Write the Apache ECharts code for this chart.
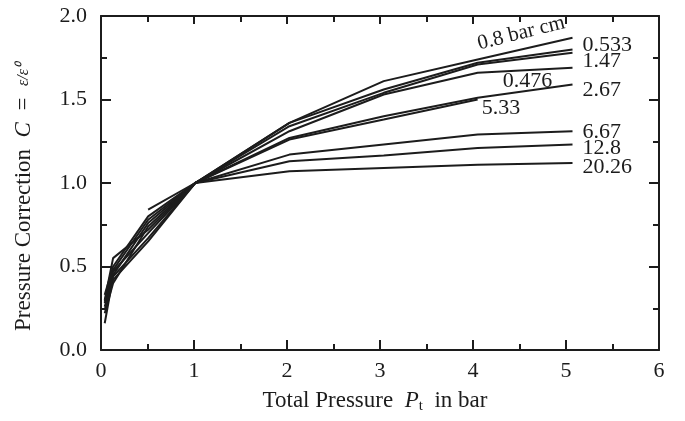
<!DOCTYPE html>
<html>
<head>
<meta charset="utf-8">
<script src="https://cdn.jsdelivr.net/npm/echarts@6/dist/echarts.min.js"></script>
<style>
html, body { margin: 0; padding: 0; background: #fff; }
#main { width: 685px; height: 421px; }
</style>
</head>
<body>
<div id="main"></div>
<script>
// total pressure points (bar) shared by the curves
var pressure = [0.04, 0.13, 0.507, 1.013, 2.026, 3.04, 4.05, 5.07];

// pressure correction C for each pL curve, null where the curve has no point
var c_0_8   = [0.26, 0.42, 0.65, 1.00, 1.36, 1.61, 1.74, 1.87];
var c_0_533 = [0.16, 0.44, 0.67, 1.00, 1.36, 1.56, 1.72, 1.80];
var c_1_47  = [0.28, 0.47, 0.70, 1.00, 1.34, 1.54, 1.71, 1.78];
var c_0_476 = [0.30, 0.55, 0.72, 1.00, 1.31, 1.53, 1.66, 1.69];
var c_2_67  = [0.22, 0.40, 0.74, 1.00, 1.27, 1.40, 1.51, 1.59];
var c_5_33  = [0.24, 0.45, 0.76, 1.00, 1.26, 1.38, 1.50, null];
var c_6_67  = [0.29, 0.48, 0.78, 1.00, 1.17, 1.23, 1.29, 1.31];
var c_12_8  = [0.33, 0.50, 0.80, 1.00, 1.13, 1.165, 1.21, 1.23];
var c_20_26 = [null, null, 0.84, 1.00, 1.07, 1.09, 1.11, 1.12];

var curveNames = ['0.8 bar cm', '0.533', '1.47', '0.476', '2.67', '5.33', '6.67', '12.8', '20.26'];
var curveValues = [c_0_8, c_0_533, c_1_47, c_0_476, c_2_67, c_5_33, c_6_67, c_12_8, c_20_26];

var FONT = 'Liberation Serif';
var INK = '#1c1c1c';

// where each curve's text goes: 'end' = label after last point, 'item' = label at a point
var labelPlace = [
    { type: 'item', index: 6, offset: [3, -15], rotate: 14, fontSize: 21 },
    { type: 'end', offset: [0, -4] },
    { type: 'end', offset: [0, 8] },
    { type: 'item', index: 6, offset: [24, 8], rotate: 0 },
    { type: 'end', offset: [0, 6] },
    { type: 'end', offset: [0, 9], distance: 4 },
    { type: 'end', offset: [0, 1] },
    { type: 'end', offset: [0, 4] },
    { type: 'end', offset: [0, 4] }
];

var textStyle = { fontFamily: FONT, fontSize: 22, color: INK };

var series = curveNames.map(function (name, k) {
    var data = [];
    curveValues[k].forEach(function (v, i) {
        if (v !== null) data.push([pressure[i], v]);
    });
    var place = labelPlace[k];
    var s = {
        name: name,
        type: 'line',
        symbol: 'none',
        data: data,
        lineStyle: { color: INK, width: 2 },
        itemStyle: { color: INK },
        emphasis: { disabled: true },
        z: 3
    };
    if (place.type === 'end') {
        s.endLabel = Object.assign({}, textStyle, {
            show: true,
            formatter: name,
            position: 'right',
            distance: place.distance || 10,
            offset: place.offset
        });
    } else {
        var pt = data[place.index];
        data[place.index] = {
            value: pt,
            symbol: 'circle',
            symbolSize: 2,
            itemStyle: { color: 'rgba(0,0,0,0)' },
            label: Object.assign({}, textStyle, {
                show: true,
                formatter: name,
                position: 'right',
                distance: 0,
                rotate: place.rotate,
                offset: place.offset,
                fontSize: place.fontSize || textStyle.fontSize
            })
        };
    }
    return s;
});

function boxAxis(extra) {
    return Object.assign({
        type: 'value',
        axisLine: { show: true, onZero: false, lineStyle: { color: INK, width: 2 } },
        axisTick: { show: true, inside: true, length: 10, lineStyle: { color: INK, width: 2 } },
        minorTick: { show: true, splitNumber: 2, length: 6, lineStyle: { color: INK, width: 2 } },
        splitLine: { show: false },
        minorSplitLine: { show: false }
    }, extra);
}

var titleRich = {
    it: { fontFamily: FONT, fontSize: 23, fontStyle: 'italic', color: INK },
    sub: { fontFamily: FONT, fontSize: 15, color: INK, padding: [11, 0, 0, 0] },
    fr: { fontFamily: FONT, fontSize: 16, fontStyle: 'italic', color: INK }
};

var myChart = echarts.init(document.getElementById('main'));

var option = {
    animation: false,
    backgroundColor: '#fff',
    grid: { left: 101, right: 26, top: 16, bottom: 71 },
    xAxis: [
        boxAxis({
            position: 'bottom', min: 0, max: 6, interval: 1,
            axisLabel: Object.assign({ margin: 10 }, textStyle),
            name: 'Total Pressure  {it|P}{sub|t}  in bar',
            nameLocation: 'middle',
            nameGap: 38,
            nameTextStyle: { fontFamily: FONT, fontSize: 23, color: INK, rich: titleRich, padding: [0, 10, 0, 0] }
        }),
        boxAxis({
            position: 'top', min: 0, max: 6, interval: 1,
            axisTick: { show: true, inside: true, length: 8, lineStyle: { color: INK, width: 2 } },
            axisLabel: { show: false }
        })
    ],
    yAxis: [
        boxAxis({
            position: 'left', min: 0, max: 2, interval: 0.5,
            axisLabel: Object.assign({
                margin: 14,
                formatter: function (v) { return v.toFixed(1); }
            }, textStyle),
            name: 'Pressure Correction  {it|C}  =  {fr|ε/ε⁰}',
            nameLocation: 'middle',
            nameRotate: 90,
            nameGap: 66,
            nameTextStyle: { fontFamily: FONT, fontSize: 23, color: INK, rich: titleRich, padding: [0, 28, 0, 0] }
        }),
        boxAxis({
            position: 'right', min: 0, max: 2, interval: 0.5,
            axisLabel: { show: false }
        })
    ],
    series: series
};

myChart.setOption(option);
</script>
</body>
</html>
